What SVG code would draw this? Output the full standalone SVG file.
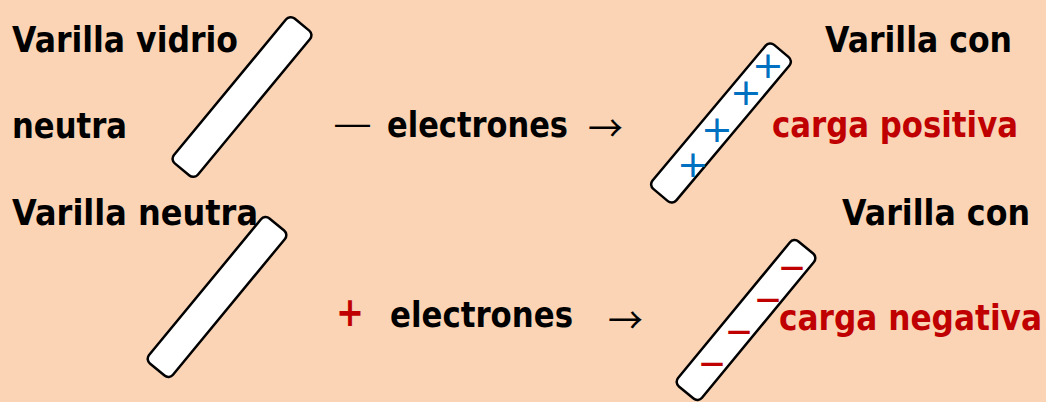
<svg xmlns="http://www.w3.org/2000/svg" width="1046" height="402" viewBox="0 0 1046 402">
  <style>
    .bg { fill: #FAD4B5; }
    .rod { fill: #FFFFFF; stroke: #000000; stroke-width: 2.5; }
    .lbl { font-family: "Comic Sans MS", "DejaVu Sans", sans-serif; font-weight: bold; font-size: 35px; fill: #000000; }
    .red { fill: #C00000; }
    .dash { font-family: "Liberation Sans", sans-serif; font-size: 35px; fill: #000000; }
    .arrow { font-family: "Noto Sans CJK JP", "DejaVu Sans", sans-serif; font-size: 36px; fill: #000000; }
    .plus { font-family: "DejaVu Sans", sans-serif; font-weight: bold; font-size: 40px; fill: #C00000; }
    .pos { font-family: "DejaVu Sans", sans-serif; font-size: 38px; fill: #0070C0; text-anchor: middle; }
    .neg { font-family: "DejaVu Sans", sans-serif; font-weight: bold; font-size: 24px; fill: #C00000; text-anchor: middle; }
  </style>
  <defs>
    <rect id="rodShape" x="-94" y="-15.5" width="188" height="31" rx="6" ry="6"/>
  </defs>

  <rect class="bg" x="0" y="0" width="1046" height="402"/>

  <!-- neutral glass rod, top row -->
  <g id="rod-glass-neutral">
    <use href="#rodShape" class="rod" transform="translate(242,97) rotate(-50.4)"/>
    <text class="lbl" x="12" y="52" textLength="226" lengthAdjust="spacingAndGlyphs">Varilla vidrio</text>
    <text class="lbl" x="12" y="138" textLength="115" lengthAdjust="spacingAndGlyphs">neutra</text>
  </g>

  <!-- process label, top row -->
  <g id="remove-electrons">
    <text class="dash" x="335" y="135" textLength="35" lengthAdjust="spacingAndGlyphs">—</text>
    <text class="lbl" x="387" y="137" textLength="181" lengthAdjust="spacingAndGlyphs">electrones</text>
    <text class="arrow" x="588" y="142" textLength="35" lengthAdjust="spacingAndGlyphs">→</text>
  </g>

  <!-- positively charged rod -->
  <g id="rod-positive">
    <use href="#rodShape" class="rod" transform="translate(721,123) rotate(-50)"/>
    <text class="pos" x="768" y="78">+</text>
    <text class="pos" x="746" y="105">+</text>
    <text class="pos" x="717" y="142">+</text>
    <text class="pos" x="693" y="177">+</text>
    <text class="lbl" x="825" y="52" textLength="187" lengthAdjust="spacingAndGlyphs">Varilla con</text>
    <text class="lbl red" x="772" y="137" textLength="246" lengthAdjust="spacingAndGlyphs">carga positiva</text>
  </g>

  <!-- neutral rod, bottom row -->
  <g id="rod-neutral">
    <use href="#rodShape" class="rod" transform="translate(217,297) rotate(-50.5)"/>
    <text class="lbl" x="12" y="225" textLength="246" lengthAdjust="spacingAndGlyphs">Varilla neutra</text>
  </g>

  <!-- process label, bottom row -->
  <g id="add-electrons">
    <text class="plus" x="336" y="326" textLength="28" lengthAdjust="spacingAndGlyphs">+</text>
    <text class="lbl" x="390" y="327" textLength="183" lengthAdjust="spacingAndGlyphs">electrones</text>
    <text class="arrow" x="608" y="334" textLength="35" lengthAdjust="spacingAndGlyphs">→</text>
  </g>

  <!-- negatively charged rod -->
  <g id="rod-negative">
    <use href="#rodShape" class="rod" transform="translate(746,320) rotate(-50.5)"/>
    <text class="neg" x="792" y="275">—</text>
    <text class="neg" x="768" y="307">—</text>
    <text class="neg" x="739" y="339">—</text>
    <text class="neg" x="712" y="371">—</text>
    <text class="lbl" x="842" y="225" textLength="188" lengthAdjust="spacingAndGlyphs">Varilla con</text>
    <text class="lbl red" x="779" y="330" textLength="263" lengthAdjust="spacingAndGlyphs">carga negativa</text>
  </g>
</svg>
